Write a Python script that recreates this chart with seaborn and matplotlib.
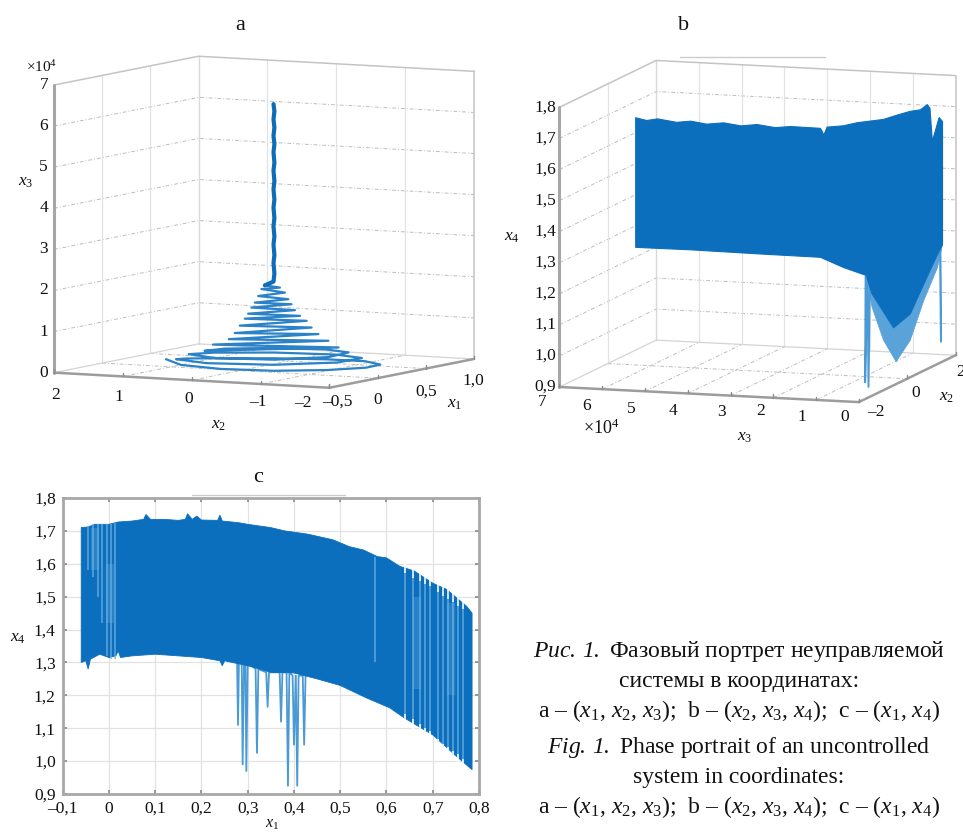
import matplotlib
matplotlib.use('Agg')
import matplotlib.pyplot as plt
from matplotlib.lines import Line2D
import seaborn as sns
from mpl_toolkits.mplot3d import proj3d
from mpl_toolkits.mplot3d.art3d import Poly3DCollection

# panel a: the coil, bottom turns first, then the thin stem
a_x1 = [.024, -.051, -.041, .051, .202, .370, .511, .582, .571, .480, .335, .176, .047,
        -.022, .078, .284, .469, .534, .447, .257, .076, .018, .105, .282, .439,
        .491, .416, .259, .112, .416, .131, .393, .167, .370, .180, .355, .192, .344, .203,
        .329, .211, .317, .218, .309, .226, .302, .234, .294, .241, .283, .249,
        .27, .265, .27, .265, .27, .265, .27, .265, .27, .265, .27, .265, .27, .265, .27, .265, .27, .265, .27, .265, .27]
a_x2 = [1.108, .784, .226, -.421, -.984, -1.317, -1.325, -.999, -.455, .169, .703, 1.009, .994,
        .456, -.383, -1.025, -1.115, -.641, .123, .735, .849, .377, -.346, -.895, -.964,
        -.556, .081, .584, .670, -.850, .575, -.736, .396, -.622, .328, -.545, .271, -.488, .214,
        -.413, .176, -.356, .139, -.317, .100, -.280, .062, -.242, .025, -.185, -.014,
        -.11, -.13, -.11, -.13, -.11, -.13, -.11, -.13, -.11, -.13, -.11, -.13, -.11, -.13, -.11, -.13, -.11, -.13, -.11, -.13, -.11]
a_x3 = [.165, .09, .04, .01, .01, .02, .03, .05, .05, .06, .08, .12, .165,
        .15, .14, .16, .19, .2, .22, .25, .287, .26, .25, .28, .326,
        .34, .35, .36, .367, .447, .52, .61, .651, .773, .80, .933, .98, 1.096, 1.15,
        1.217, 1.27, 1.356, 1.42, 1.50, 1.54, 1.623, 1.70, 1.784, 1.87, 1.905, 1.96,
        2.05, 2.25, 2.5, 2.7, 2.95, 3.15, 3.4, 3.6, 3.85, 4.05, 4.3, 4.5, 4.75, 4.95, 5.2, 5.4, 5.6, 5.8, 6.0, 6.2, 6.37]

# panel b: the band as edges of (x2, x3, x4)
b_top_x2 = [0, 0, 0, 0, 0, 0, 0, 0, 0, 0, 0, 0, 0, 0, 0, 0, 0, 0, .105, .526, .81, .92, 1.02, 1.30, 1.44]
b_top_x3 = [6.36, 6.1, 5.85, 5.4, 5.07, 4.7, 4.30, 3.9, 3.52, 3.1, 2.74, 2.04, 1.96, 1.885, 1.5, 1.185, .565, .25, 0, 0, 0, 0, 0, 0, 0]
b_top_x4 = [1.697, 1.69, 1.697, 1.689, 1.695, 1.688, 1.695, 1.688, 1.695, 1.688, 1.694, 1.693, 1.672, 1.698, 1.705, 1.717, 1.732, 1.748, 1.758, 1.747, 1.753, 1.737, 1.627, 1.693, 1.675]
b_low_x2 = [1.44, 1.23, .665, .105, 0, 0, 0, 0, 0, 0, 0, 0]
b_low_x3 = [0, 0, 0, 0, .33, .835, .968, 1.5, 2.04, 3.52, 5.07, 6.36]
b_low_x4 = [1.279, 1.255, 1.181, 1.106, 1.063, 1.169, 1.227, 1.249, 1.278, 1.279, 1.281, 1.28]
b_bowl_x2 = [1.44, 1.23, .665, .105, 0, 0, 0, 0]
b_bowl_x3 = [0, 0, 0, 0, .27, .565, .835, .968]
b_bowl_x4 = [1.279, 1.2125, 1.128, 1.021, .954, 1.021, 1.126, 1.227]
b_spike_x2 = [-.66, -.68, -.58, -.54, -.48, 1.37, 1.39, 1.37]
b_spike_x3 = [.6, .6, .6, .6, .6, 0, 0, 0]
b_spike_x4 = [1.25, .91, 1.25, .89, 1.25, 1.28, .967, 1.28]

# panel c: band envelope, dips below it and pale gaps through it
c_top_x = [-.06, -.045, -.03, 0, .02, .05, .075, .08, .09, .12, .15, .165, .17, .18, .19, .2, .235, .24, .245, .28, .3,
           .35, .38, .43, .484, .52, .55, .58, .60, .629, .66, .70, .73, .773, .785]
c_top_y = [1.71, 1.712, 1.72, 1.72, 1.727, 1.73, 1.735, 1.75, 1.735, 1.735, 1.732, 1.735, 1.752, 1.735, 1.745, 1.733,
           1.732, 1.748, 1.73, 1.725, 1.72, 1.71, 1.70, 1.69, 1.673, 1.652, 1.642, 1.622, 1.618, 1.592, 1.578, 1.541, 1.522, 1.471, 1.45]
c_low_x = [-.06, -.05, -.045, -.04, -.02, 0, .015, .02, .025, .05, .1, .2, .24, .245, .25, .3, .35, .4, .45, .5,
           .557, .607, .639, .70, .751, .785]
c_low_y = [1.30, 1.305, 1.28, 1.31, 1.325, 1.315, 1.32, 1.335, 1.315, 1.32, 1.325, 1.315, 1.305, 1.29, 1.305, 1.29,
           1.27, 1.268, 1.25, 1.23, 1.192, 1.162, 1.131, 1.08, 1.015, .974]
c_dip_x = [.277, .279, .281, .287, .289, .292, .295, .297, .30, .317, .32, .323, .34, .343, .346, .369, .372, .375,
           .384, .387, .39, .397, .40, .404, .407, .41, .419, .422, .425]
c_dip_y = [1.30, 1.11, 1.30, 1.30, .99, 1.30, 1.30, .97, 1.30, 1.28, 1.025, 1.28, 1.27, 1.165, 1.27, 1.27, 1.12, 1.27,
           1.27, .925, 1.27, 1.26, 1.05, 1.26, .925, 1.26, 1.26, 1.05, 1.26]
c_gap_x = [-.045, -.034, -.023, -.014, -.005, .004, .012, .575, .64, .658, .672, .683, .694, .712, .723, .734, .744, .755, .766]
c_gap_hi = [1.715, 1.72, 1.72, 1.72, 1.72, 1.72, 1.725, 1.62, 1.585, 1.57, 1.56, 1.55, 1.545, 1.525, 1.515, 1.505, 1.495, 1.485, 1.475]
c_gap_lo = [1.58, 1.56, 1.50, 1.42, 1.32, 1.31, 1.31, 1.30, 1.13, 1.115, 1.10, 1.09, 1.08, 1.055, 1.04, 1.03, 1.02, 1.01, .995]
c_pale_x = [-.03, .003, .665, .74]
c_pale_hi = [1.71, 1.60, 1.50, 1.48]
c_pale_lo = [1.58, 1.42, 1.22, 1.20]

a_x1_ticks = [-.5, 0, .5, 1]
a_x2_ticks = [2, 1, 0, -1, -2]
a_x3_ticks = [0, 1, 2, 3, 4, 5, 6, 7]
a_x1_labels = ['–0,5', '0', '0,5', '1,0']
a_x2_labels = ['2', '1', '0', '–1', '–2']
b_x2_ticks = [-2, 0, 2]
b_x3_ticks = [7, 6, 5, 4, 3, 2, 1, 0]
b_x4_ticks = [.9, 1.0, 1.1, 1.2, 1.3, 1.4, 1.5, 1.6, 1.7, 1.8]
b_x2_labels = ['–2', '0', '2']
b_x4_labels = ['0,9', '1,0', '1,1', '1,2', '1,3', '1,4', '1,5', '1,6', '1,7', '1,8']
c_x_ticks = [-.1, 0, .1, .2, .3, .4, .5, .6, .7, .8]
c_x_labels = ['–0,1', '0', '0,1', '0,2', '0,3', '0,4', '0,5', '0,6', '0,7', '0,8']
c_y_ticks = [.9, 1.0, 1.1, 1.2, 1.3, 1.4, 1.5, 1.6, 1.7, 1.8]

caption = [r'$\mathcal{Рис.\,1.}$ Фазовый портрет неуправляемой',
           'системы в координатах:',
           r'a – ($x_1$, $x_2$, $x_3$);  b – ($x_2$, $x_3$, $x_4$);  c – ($x_1$, $x_4$)',
           r'$\mathcal{Fig.\,1.}$ Phase portrait of an uncontrolled',
           'system in coordinates:',
           r'a – ($x_1$, $x_2$, $x_3$);  b – ($x_2$, $x_3$, $x_4$);  c – ($x_1$, $x_4$)']

sns.set_theme(style='whitegrid')
plt.rcParams['font.family'] = ['Liberation Serif', 'DejaVu Serif']
plt.rcParams['mathtext.fontset'] = 'custom'
plt.rcParams['mathtext.rm'] = 'Liberation Serif'
plt.rcParams['mathtext.it'] = 'Liberation Serif:italic'
plt.rcParams['mathtext.bf'] = 'Liberation Serif:bold'
plt.rcParams['mathtext.cal'] = 'Liberation Serif:italic'
plt.rcParams['axes.unicode_minus'] = False

W, H = 963, 833
BLUE = '#0b6fbd'
TICK_SIZE = 12.5
fig = plt.figure(figsize=(W / 100, H / 100), dpi=100, facecolor='white')


def px_text(x, y, s, size=TICK_SIZE, **kw):
    fig.text(x / W, 1 - y / H, s, fontsize=size, ha=kw.pop('ha', 'center'), va=kw.pop('va', 'center'), color='#111111', **kw)


def box_axes(left, top, side, xlim, ylim, zlim, aspect, elev, azim, zoom=1.0):
    ax = fig.add_axes([left / W, 1 - (top + side) / H, side / W, side / H], projection='3d', computed_zorder=False)
    ax.set_proj_type('ortho')
    ax.set_xlim(*xlim, view_margin=0)
    ax.set_ylim(*ylim, view_margin=0)
    ax.set_zlim(*zlim, view_margin=0)
    ax.set_box_aspect(aspect, zoom=zoom)
    ax.view_init(elev=elev, azim=azim)
    ax.set_facecolor('none')
    ax.set_axis_off()
    return ax


def frame(ax, xf, xb, yl, yr, xt, yt, zt):
    # hand drawn 3d box, matlab style: two back walls and the floor
    zs = sorted(zt)
    z0, z1 = zs[0], zs[-1]
    dash = dict(color='#bdbdbd', lw=.7, ls=(0, (4, 2, 1, 2)))
    solid = dict(color='#e2e2e2', lw=.9)
    for z in zs[1:-1]:
        ax.plot([xf, xb, xb], [yl, yl, yr], [z, z, z], **dash)
    for x in xt:
        if x not in (xf, xb):
            ax.plot([x, x], [yl, yl], [z0, z1], **solid)
            ax.plot([x, x], [yl, yr], [z0, z0], **dash)
    for y in yt:
        if y not in (yl, yr):
            ax.plot([xb, xb], [y, y], [z0, z1], **solid)
            ax.plot([xf, xb], [y, y], [z0, z0], **dash)
    ax.plot([xb, xb], [yl, yl], [z0, z1], color='#d8d8d8', lw=1)
    ax.plot([xf, xb, xb], [yl, yl, yr], [z1, z1, z1], color='#c4c4c4', lw=1.1)
    ax.plot([xb, xb], [yr, yr], [z0, z1], color='#c4c4c4', lw=1.1)
    ax.plot([xf, xb], [yl, yl], [z0, z0], color='#d4d4d4', lw=.9)
    ax.plot([xb, xb], [yl, yr], [z0, z0], color='#d4d4d4', lw=.9)
    ax.plot([xf, xf], [yl, yl], [z0, z1], color='#a6a6a6', lw=2.2)
    ax.plot([xf, xf, xb], [yl, yr, yr], [z0, z0, z0], color='#9c9c9c', lw=1.8)
    # short tick stubs
    tick_h = (z1 - z0) * .012
    for y in yt:
        ax.plot([xf, xf], [y, y], [z0, z0 + tick_h], color='#8c8c8c', lw=1)
    for x in xt:
        ax.plot([x, x], [yr, yr], [z0, z0 + tick_h], color='#8c8c8c', lw=1)


def tick_label(ax, xyz, s, dx, dy, ha='center', va='center'):
    # label anchored on the projected 3d tick, offset given in pixels
    X, Y, _ = proj3d.proj_transform(*xyz, ax.get_proj())
    ax.annotate(s, (X, Y), xytext=(dx * .72, -dy * .72), textcoords='offset points',
                fontsize=TICK_SIZE, ha=ha, va=va, annotation_clip=False, color='#111111')


# panel a
ax_a = box_axes(1.6, -26.6, 511, (-.5, 1), (-2, 2), (0, 7), (1, 1, .93), 6, 207.7)
frame(ax_a, -.5, 1, 2, -2, a_x1_ticks, a_x2_ticks, a_x3_ticks)
ax_a.plot(a_x1[:51], a_x2[:51], a_x3[:51], color='#2b82c6', lw=1.6, zorder=5)
ax_a.plot(a_x1[50:], a_x2[50:], a_x3[50:], color='#0f6db8', lw=3, zorder=5)
for z in a_x3_ticks:
    tick_label(ax_a, (-.5, 2, z), str(z), -6, 0, ha='right')
for y, s, off in zip(a_x2_ticks, a_x2_labels, [(2, 22), (-4, 21), (-3, 19), (-3, 18), (-27, 15)]):
    tick_label(ax_a, (-.5, y, 0), s, *off)
for x, s, off in zip(a_x1_ticks, a_x1_labels, [(8, 14), (0, 22), (0, 23), (-1, 22)]):
    tick_label(ax_a, (x, -2, 0), s, *off)

# panel b
ax_b = box_axes(494.6, -17.8, 512, (-2, 2), (0, 7), (.9, 1.8), (1, 1, .90), 9, 197.9)
frame(ax_b, -2, 2, 7, 0, b_x2_ticks, b_x3_ticks, b_x4_ticks)
bowl = list(zip(b_bowl_x2, b_bowl_x3, b_bowl_x4)) + list(zip(b_low_x2[:7], b_low_x3[:7], b_low_x4[:7]))[::-1]
band = list(zip(b_top_x2, b_top_x3, b_top_x4)) + list(zip(b_low_x2, b_low_x3, b_low_x4))
ax_b.add_collection3d(Poly3DCollection([bowl], facecolor='#5aa3da', edgecolor='#5aa3da', lw=.5, zorder=4))
ax_b.plot(b_spike_x2[:5], b_spike_x3[:5], b_spike_x4[:5], color='#4a9ad6', lw=1.4, zorder=4)
ax_b.plot(b_spike_x2[5:], b_spike_x3[5:], b_spike_x4[5:], color='#4a9ad6', lw=1.2, zorder=4)
ax_b.add_collection3d(Poly3DCollection([band], facecolor=BLUE, edgecolor=BLUE, lw=.8, zorder=5))
for z, s in zip(b_x4_ticks, b_x4_labels):
    tick_label(ax_b, (-2, 7, z), s, -3, 0, ha='right')
for y, off in zip(b_x3_ticks, [(-17, 15), (-16, 17), (-14, 18), (-15, 18), (-9, 16), (-13, 13), (-14, 17), (-14, 15)]):
    tick_label(ax_b, (-2, y, .9), str(y), *off)
for x, s, off in zip(b_x2_ticks, b_x2_labels, [(17, 10), (8, 14), (5, 17)]):
    tick_label(ax_b, (x, 0, .9), s, *off)

# panel c
ax_c = fig.add_axes([62.7 / W, 1 - 794 / H, 416.3 / W, 296 / H])
ax_c.fill(c_top_x + c_low_x[::-1], c_top_y + c_low_y[::-1], color=BLUE, lw=.6, zorder=3)
sns.lineplot(x=c_dip_x, y=c_dip_y, ax=ax_c, sort=False, estimator=None, color='#4a9ad6', lw=1.3, legend=False, zorder=2.5)
ax_c.vlines(c_pale_x, c_pale_lo, c_pale_hi, color='#6cb0e2', lw=6, alpha=.3, zorder=4)
ax_c.vlines(c_gap_x, c_gap_lo, c_gap_hi, color='#6cb0e2', lw=1.1, alpha=.85, zorder=4)
# the gaps reach the envelope on the right side and cut teeth into it
ax_c.vlines(c_gap_x[8:], [v - .012 for v in c_gap_hi[8:]], [v + .02 for v in c_gap_hi[8:]], color='white', lw=1.1, zorder=5)
ax_c.vlines(c_gap_x[8:], [v - .02 for v in c_gap_lo[8:]], [v + .012 for v in c_gap_lo[8:]], color='white', lw=1.1, zorder=5)
ax_c.set_xlim(-.1, .8)
ax_c.set_ylim(.9, 1.8)
ax_c.set_xticks(c_x_ticks, c_x_labels)
ax_c.set_yticks(c_y_ticks, b_x4_labels)
ax_c.grid(True, color='#e2e2e2', lw=.9)
ax_c.set_axisbelow(True)
ax_c.tick_params(direction='in', length=3, color='#8c8c8c', labelsize=TICK_SIZE, labelcolor='#111111', top=True, right=True, bottom=True, left=True)
ax_c.tick_params(axis='x', pad=5)
ax_c.tick_params(axis='y', pad=5)
for sp in ax_c.spines.values():
    sp.set_color('#a8a8a8')
    sp.set_linewidth(2)

# stray scan marks above panels b and c
fig.add_artist(Line2D([680 / W, 825 / W], [1 - 57 / H, 1 - 57 / H], color='#cccccc', lw=1))
fig.add_artist(Line2D([192 / W, 345 / W], [1 - 495 / H, 1 - 495 / H], color='#cccccc', lw=1))

# titles, axis names, caption
px_text(240, 25, 'a', 16)
px_text(684, 25, 'b', 16)
px_text(258, 478, 'c', 16)
px_text(26, 182, '$x_3$')
px_text(42, 67, r'×10$^4$', 11)
px_text(219, 425, '$x_2$')
px_text(455, 404, '$x_1$')
px_text(512, 237, '$x_4$')
px_text(601, 428, r'×10$^4$', 13)
px_text(745, 437, '$x_3$')
px_text(947, 397, '$x_2$')
px_text(18, 638, '$x_4$')
px_text(272, 824, '$x_1$', 11.5)
for s, y in zip(caption, [652, 681, 711, 748, 777, 807]):
    px_text(739, y, s, 17)

fig.savefig('out.png', dpi=100)
